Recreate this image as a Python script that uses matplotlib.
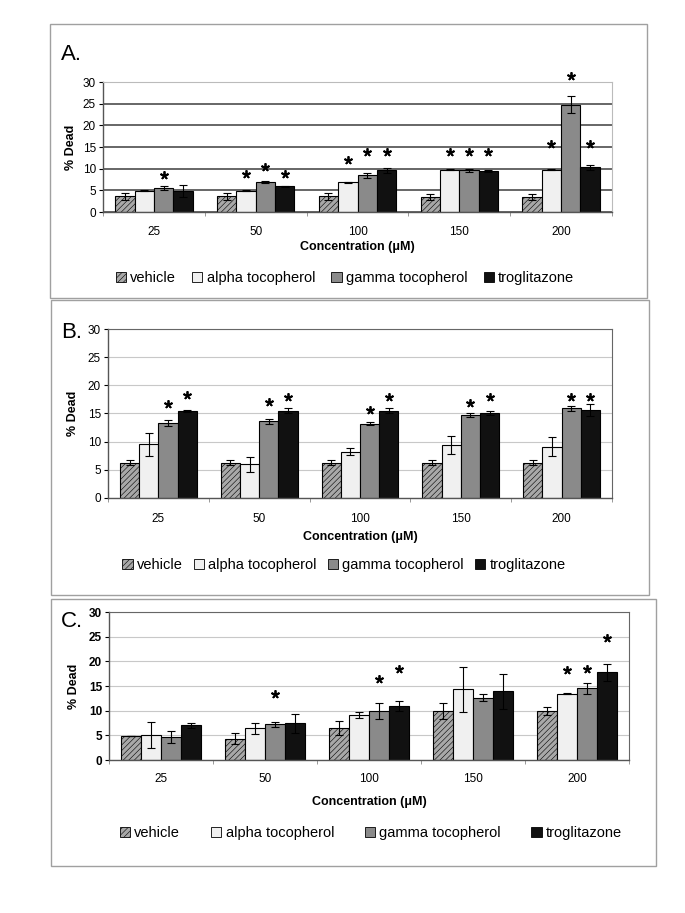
import matplotlib
matplotlib.use('Agg')
import numpy as np
import matplotlib.pyplot as plt
from matplotlib.patches import Patch, Rectangle

plt.rcParams['font.family'] = ['Liberation Sans', 'DejaVu Sans']
plt.rcParams['hatch.linewidth'] = 0.4

W, H = 685, 913

concentrations = ['25', '50', '100', '150', '200']
series_names = ['vehicle', 'alpha tocopherol', 'gamma tocopherol', 'troglitazone']

# Panel A values (% dead) and errors
a_vehicle = [3.6, 3.6, 3.6, 3.5, 3.5]
a_alpha = [4.9, 4.9, 6.9, 9.8, 9.8]
a_gamma = [5.5, 6.9, 8.5, 9.6, 24.8]
a_trog = [4.9, 5.9, 9.6, 9.4, 10.3]
a_vehicle_err = [0.8, 0.8, 0.8, 0.7, 0.7]
a_alpha_err = [0.1, 0.1, 0.1, 0.1, 0.1]
a_gamma_err = [0.5, 0.2, 0.6, 0.3, 2.0]
a_trog_err = [1.4, 0.2, 0.5, 0.2, 0.6]
# stars: (category, series, y)
a_stars = [(0, 2, 8.6), (1, 1, 8.8), (1, 2, 10.5), (1, 3, 8.8),
           (2, 1, 12.1), (2, 2, 13.8), (2, 3, 13.8),
           (3, 1, 13.8), (3, 2, 13.8), (3, 3, 13.8),
           (4, 1, 15.8), (4, 2, 31.3), (4, 3, 15.8)]

# Panel B
b_vehicle = [6.3, 6.3, 6.3, 6.3, 6.3]
b_alpha = [9.5, 6.0, 8.2, 9.4, 9.1]
b_gamma = [13.3, 13.6, 13.2, 14.7, 15.9]
b_trog = [15.5, 15.5, 15.5, 15.1, 15.6]
b_vehicle_err = [0.4, 0.4, 0.4, 0.4, 0.4]
b_alpha_err = [2.1, 1.3, 0.6, 1.6, 1.7]
b_gamma_err = [0.5, 0.5, 0.3, 0.3, 0.4]
b_trog_err = [0.2, 0.4, 0.4, 0.4, 1.0]
b_stars = [(0, 2, 16.7), (0, 3, 18.3), (1, 2, 17.0), (1, 3, 18.0),
           (2, 2, 15.6), (2, 3, 18.0), (3, 2, 16.8), (3, 3, 18.0),
           (4, 2, 18.0), (4, 3, 18.0)]

# Panel C
c_vehicle = [4.8, 4.3, 6.5, 9.9, 9.9]
c_alpha = [5.1, 6.4, 9.1, 14.3, 13.4]
c_gamma = [4.7, 7.2, 9.9, 12.6, 14.5]
c_trog = [7.0, 7.4, 10.9, 13.9, 17.8]
c_vehicle_err = [0.0, 1.1, 1.5, 1.6, 0.8]
c_alpha_err = [2.6, 1.2, 0.6, 4.5, 0.1]
c_gamma_err = [1.2, 0.5, 1.6, 0.7, 1.1]
c_trog_err = [0.6, 2.0, 1.0, 3.6, 1.7]
c_stars = [(1, 2, 13.4), (2, 2, 16.5), (2, 3, 18.4),
           (4, 1, 18.2), (4, 2, 18.4), (4, 3, 24.8)]

STYLES = [
    dict(facecolor='#a8a8a8', hatch='//////'),
    dict(facecolor='#f0f0f0'),
    dict(facecolor='#8a8a8a'),
    dict(facecolor='#111111'),
]


def px_axes(fig, left, top, right, bottom):
    return fig.add_axes([left / W, 1 - bottom / H, (right - left) / W, (bottom - top) / H])


def draw_panel(fig, box, label, label_xy, values, errors, stars, grid_color, grid_lw,
               frame_color, tick_bold, tick_pad, xlabel_pad, ylabel_pad):
    ax = px_axes(fig, *box)
    x = np.arange(len(concentrations))
    width = 0.19
    for i, (vals, errs) in enumerate(zip(values, errors)):
        pos = x + (i - 1.5) * width
        ax.bar(pos, vals, width, edgecolor='black', linewidth=0.8, zorder=2, **STYLES[i])
        ax.errorbar(pos, vals, yerr=errs, fmt='none', ecolor='black', elinewidth=0.8,
                    capsize=3, capthick=0.8, zorder=3)
    for cat, ser, y in stars:
        ax.plot(cat + (ser - 1.5) * width, y, marker=(5, 2, 0), markersize=6,
                markeredgewidth=1.3, color='black', clip_on=False, zorder=4)

    ax.set_xlim(-0.5, 4.5)
    ax.set_ylim(0, 30)
    ax.set_yticks(range(0, 31, 5))
    ax.yaxis.grid(True, color=grid_color, linewidth=grid_lw, zorder=0)
    ax.set_axisbelow(True)
    ax.set_xticks(x)
    ax.set_xticklabels(concentrations, fontsize=8.5)
    ax.set_xticks(np.arange(-0.5, 5, 1), minor=True)
    ax.tick_params(axis='x', which='major', length=0, pad=tick_pad)
    ax.tick_params(axis='x', which='minor', length=3, color='#888888')
    ax.tick_params(axis='y', length=3, labelsize=8.5, pad=2)
    if tick_bold:
        for t in ax.get_yticklabels():
            t.set_fontweight('bold')
    for side in ['left', 'bottom']:
        ax.spines[side].set_color('#555555')
        ax.spines[side].set_linewidth(1.0)
    for side in ['top', 'right']:
        ax.spines[side].set_color(frame_color)
        ax.spines[side].set_linewidth(0.8)
    ax.set_xlabel('Concentration (μM)', fontsize=9, fontweight='bold', labelpad=xlabel_pad)
    ax.set_ylabel('% Dead', fontsize=9, fontweight='bold', labelpad=ylabel_pad)
    fig.text(label_xy[0] / W, 1 - label_xy[1] / H, label, fontsize=16, va='center', ha='left')
    return ax


def legend_handles():
    return [Patch(edgecolor='black', linewidth=0.6, **s) for s in STYLES]


def outer_box(fig, left, top, right, bottom):
    fig.patches.append(Rectangle((left / W, 1 - bottom / H), (right - left) / W,
                                 (bottom - top) / H, transform=fig.transFigure,
                                 fill=False, edgecolor='#a0a0a0', linewidth=1.0))


fig = plt.figure(figsize=(W / 100, H / 100), dpi=100)

outer_box(fig, 50, 24, 647, 298)
outer_box(fig, 51, 300, 649, 595)
outer_box(fig, 51, 599, 656, 866)

draw_panel(fig, (103, 82, 612, 212), 'A.', (61, 54),
           [a_vehicle, a_alpha, a_gamma, a_trog],
           [a_vehicle_err, a_alpha_err, a_gamma_err, a_trog_err],
           a_stars, '#5a5a5a', 1.3, '#bbbbbb', False, 10, 2, 4)
draw_panel(fig, (108, 329, 612, 498), 'B.', (61, 332),
           [b_vehicle, b_alpha, b_gamma, b_trog],
           [b_vehicle_err, b_alpha_err, b_gamma_err, b_trog_err],
           b_stars, '#c8c8c8', 0.8, '#666666', False, 11, 4, 6)
draw_panel(fig, (109, 612, 629, 760), 'C.', (61, 621),
           [c_vehicle, c_alpha, c_gamma, c_trog],
           [c_vehicle_err, c_alpha_err, c_gamma_err, c_trog_err],
           c_stars, '#c8c8c8', 0.8, '#666666', True, 9, 8, 6)

for y, cs, xc in [(278, 1.1, 345), (565, 0.75, 344), (833, 2.1, 371)]:
    fig.legend(legend_handles(), series_names, loc='center', ncol=4, frameon=False,
               bbox_to_anchor=(xc / W, 1 - y / H),
               fontsize=10.5, handlelength=0.7, handleheight=0.7, handletextpad=0.3,
               columnspacing=cs)

fig.savefig('out.png', dpi=100)
